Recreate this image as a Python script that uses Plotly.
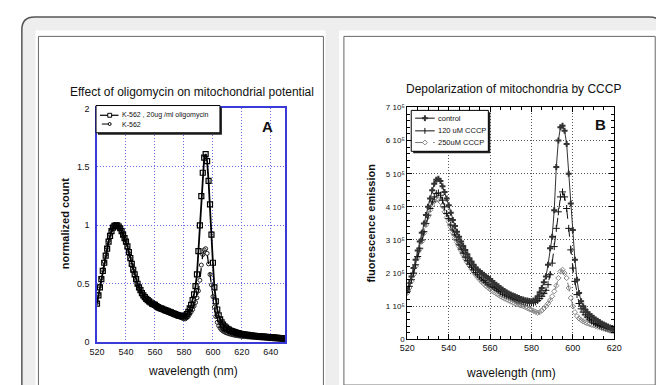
import plotly.graph_objects as go

W, H = 664, 385

# ---------------- data: panel A ----------------
wl_a = list(range(520, 651))
oligomycin = [0.33, 0.40, 0.47, 0.54, 0.61, 0.68, 0.74, 0.80, 0.86, 0.91,
              0.95, 0.98, 0.995, 1.0, 1.0, 0.99, 0.975, 0.95, 0.92, 0.89,
              0.86, 0.82, 0.77, 0.72, 0.67, 0.62, 0.58, 0.54, 0.50, 0.47,
              0.445, 0.42, 0.40, 0.385, 0.37, 0.36, 0.35, 0.34, 0.33, 0.325,
              0.32, 0.31, 0.30, 0.295, 0.29, 0.285, 0.28, 0.275, 0.27, 0.265,
              0.26, 0.255, 0.25, 0.245, 0.24, 0.235, 0.23, 0.228, 0.225, 0.222,
              0.22, 0.225, 0.24, 0.26, 0.29, 0.32, 0.36, 0.41, 0.48, 0.58,
              0.78, 1.0, 1.25, 1.45, 1.58, 1.61, 1.55, 1.38, 1.18, 0.92,
              0.68, 0.47, 0.35, 0.28, 0.23, 0.195, 0.17, 0.15, 0.135, 0.125,
              0.115, 0.107, 0.10, 0.095, 0.09, 0.086, 0.082, 0.078, 0.075, 0.072,
              0.07, 0.068, 0.066, 0.064, 0.062, 0.06, 0.058, 0.056, 0.055, 0.054,
              0.052, 0.051, 0.05, 0.049, 0.048, 0.047, 0.046, 0.045, 0.044, 0.043,
              0.042, 0.041, 0.04, 0.039, 0.038, 0.037, 0.036, 0.035, 0.034, 0.033,
              0.032]
k562 = [0.34, 0.41, 0.48, 0.55, 0.62, 0.69, 0.75, 0.81, 0.87, 0.92,
        0.96, 0.985, 1.0, 1.0, 0.995, 0.985, 0.97, 0.945, 0.915, 0.88,
        0.85, 0.81, 0.76, 0.71, 0.66, 0.61, 0.57, 0.53, 0.49, 0.46,
        0.435, 0.41, 0.39, 0.375, 0.36, 0.35, 0.34, 0.33, 0.32, 0.315,
        0.31, 0.30, 0.29, 0.285, 0.28, 0.275, 0.27, 0.265, 0.26, 0.255,
        0.25, 0.245, 0.24, 0.235, 0.23, 0.225, 0.22, 0.215, 0.21, 0.205,
        0.20, 0.20, 0.21, 0.22, 0.24, 0.26, 0.28, 0.31, 0.34, 0.38,
        0.44, 0.53, 0.66, 0.75, 0.79, 0.80, 0.76, 0.67, 0.58, 0.49,
        0.39, 0.30, 0.22, 0.17, 0.14, 0.12, 0.105, 0.095, 0.088, 0.082,
        0.077, 0.073, 0.069, 0.066, 0.063, 0.06, 0.058, 0.056, 0.054, 0.052,
        0.05, 0.049, 0.048, 0.047, 0.046, 0.045, 0.044, 0.043, 0.042, 0.041,
        0.04, 0.039, 0.038, 0.037, 0.036, 0.035, 0.034, 0.033, 0.032, 0.031,
        0.03, 0.029, 0.028, 0.027, 0.026, 0.025, 0.024, 0.023, 0.022, 0.021,
        0.02]

# ---------------- data: panel B (units of 1e5) ----------------
wl_b = list(range(520, 621))
control = [1.5, 1.7, 1.9, 2.15, 2.4, 2.68, 2.95, 3.22, 3.5, 3.75,
           4.0, 4.25, 4.5, 4.7, 4.82, 4.85, 4.78, 4.62, 4.45, 4.25,
           4.05, 3.82, 3.6, 3.42, 3.25, 3.1, 2.95, 2.82, 2.7, 2.57,
           2.45, 2.35, 2.25, 2.17, 2.1, 2.05, 2.0, 1.95, 1.9, 1.86,
           1.82, 1.76, 1.7, 1.65, 1.6, 1.55, 1.5, 1.46, 1.42, 1.38,
           1.35, 1.32, 1.3, 1.27, 1.25, 1.22, 1.2, 1.18, 1.17, 1.16,
           1.15, 1.17, 1.2, 1.3, 1.42, 1.55, 1.72, 1.9, 2.25, 2.75,
           3.1, 3.9, 5.2, 6.0, 6.4, 6.45, 6.3, 5.9, 5.0, 4.1,
           3.3, 2.4, 1.8, 1.4, 1.15, 1.0, 0.9, 0.82, 0.75, 0.7,
           0.65, 0.6, 0.56, 0.52, 0.48, 0.45, 0.42, 0.39, 0.36, 0.34,
           0.32]
cccp120 = [1.45, 1.6, 1.8, 2.0, 2.25, 2.5, 2.75, 3.0, 3.25, 3.5,
           3.75, 3.95, 4.15, 4.3, 4.4, 4.42, 4.35, 4.2, 4.0, 3.8,
           3.65, 3.45, 3.3, 3.15, 3.0, 2.85, 2.72, 2.6, 2.48, 2.37,
           2.27, 2.18, 2.1, 2.02, 1.95, 1.88, 1.82, 1.77, 1.72, 1.67,
           1.64, 1.6, 1.56, 1.52, 1.48, 1.44, 1.4, 1.36, 1.33, 1.3,
           1.27, 1.24, 1.21, 1.19, 1.17, 1.15, 1.13, 1.12, 1.11, 1.1,
           1.1, 1.11, 1.13, 1.17, 1.23, 1.3, 1.38, 1.48, 1.65, 1.95,
           2.3, 2.8, 3.35, 3.85, 4.3, 4.45, 4.3, 3.95, 3.35, 2.7,
           2.15, 1.75, 1.35, 1.08, 0.92, 0.82, 0.74, 0.67, 0.61, 0.56,
           0.52, 0.48, 0.45, 0.42, 0.39, 0.37, 0.35, 0.33, 0.31, 0.3,
           0.29]
cccp250 = [1.4, 1.55, 1.75, 1.95, 2.2, 2.45, 2.7, 2.95, 3.2, 3.45,
           3.7, 3.9, 4.05, 4.17, 4.22, 4.22, 4.15, 4.02, 3.85, 3.68,
           3.55, 3.38, 3.22, 3.07, 2.93, 2.8, 2.67, 2.55, 2.43, 2.32,
           2.22, 2.12, 2.03, 1.95, 1.87, 1.8, 1.73, 1.67, 1.61, 1.56,
           1.51, 1.46, 1.42, 1.38, 1.34, 1.3, 1.26, 1.23, 1.2, 1.17,
           1.14, 1.11, 1.08, 1.06, 1.04, 1.02, 1.0, 0.97, 0.94, 0.91,
           0.89, 0.86, 0.83, 0.8, 0.82, 0.87, 0.93, 1.0, 1.08, 1.18,
           1.3, 1.45, 1.62, 1.85, 2.05, 2.1, 2.0, 1.85, 1.55, 1.25,
           1.0, 0.82, 0.7, 0.63, 0.58, 0.54, 0.51, 0.48, 0.46, 0.44,
           0.42, 0.4, 0.38, 0.36, 0.34, 0.32, 0.3, 0.28, 0.26, 0.25,
           0.24]

xticks_a = [520, 540, 560, 580, 600, 620, 640]
yticks_a = [0, 0.5, 1, 1.5, 2]
yticklabels_a = ["0", "0.5", "1", "1.5", "2"]
xticks_b = [520, 540, 560, 580, 600, 620]
yticks_b = [0, 1, 2, 3, 4, 5, 6, 7]
yticklabels_b = ["0", "1 10⁵", "2 10⁵", "3 10⁵", "4 10⁵", "5 10⁵", "6 10⁵", "7 10⁵"]

FONT = "Liberation Sans, Arial, sans-serif"


def fx(x):
    return x / W


def fy(y):
    return 1 - y / H


fig = go.Figure()

# ---- panel A traces
fig.add_trace(go.Scatter(x=wl_a, y=k562, mode="lines+markers",
                         line=dict(color="black", width=1.3, dash="dash"),
                         marker=dict(symbol="circle-open", size=4, color="#222",
                                     line=dict(width=1)),
                         xaxis="x", yaxis="y", showlegend=False))
fig.add_trace(go.Scatter(x=wl_a, y=oligomycin, mode="lines+markers",
                         line=dict(color="black", width=1.8),
                         marker=dict(symbol="square-open", size=5, color="black",
                                     line=dict(width=1.2)),
                         xaxis="x", yaxis="y", showlegend=False))

# ---- panel B traces
fig.add_trace(go.Scatter(x=wl_b, y=cccp250, mode="lines+markers",
                         line=dict(color="#777", width=1, dash="dash"),
                         marker=dict(symbol="diamond-open", size=4, color="#888",
                                     line=dict(width=1)),
                         xaxis="x2", yaxis="y2", showlegend=False))
fig.add_trace(go.Scatter(x=wl_b, y=cccp120, mode="lines+markers",
                         line=dict(color="#111", width=1, dash="dash"),
                         marker=dict(symbol="cross-thin", size=5, color="#111",
                                     line=dict(width=1, color="#111")),
                         xaxis="x2", yaxis="y2", showlegend=False))
fig.add_trace(go.Scatter(x=wl_b, y=control, mode="lines+markers",
                         line=dict(color="#333", width=1),
                         marker=dict(symbol="cross", size=5, color="#333"),
                         xaxis="x2", yaxis="y2", showlegend=False))

shapes = []
# outer rounded frame
r = 13
path = (f"M {fx(6)},{fy(400)} L {fx(6)},{fy(4 + r)} Q {fx(6)},{fy(4)} {fx(6 + r)},{fy(4)} "
        f"L {fx(662 - r)},{fy(4)} Q {fx(662)},{fy(4)} {fx(662)},{fy(4 + r)} L {fx(662)},{fy(400)} Z")
shapes.append(dict(type="path", xref="paper", yref="paper", path=path,
                   fillcolor="#eeeeee", line=dict(color="#555", width=1.5), layer="below"))


def rect(x0, y0, x1, y1, fill=None, line=None, lw=1, layer="below"):
    return dict(type="rect", xref="paper", yref="paper",
                x0=fx(x0), x1=fx(x1), y0=fy(y1), y1=fy(y0),
                fillcolor=fill if fill else "rgba(0,0,0,0)",
                line=dict(color=line if line else "rgba(0,0,0,0)", width=lw if line else 0),
                layer=layer)


shapes.append(rect(20, 18, 317, 395, fill="white"))
shapes.append(rect(23, 24, 315, 395, line="#666", lw=1))
shapes.append(rect(331, 18, 657, 384, fill="white"))
shapes.append(rect(336, 24, 655, 382, line="#666", lw=1))

# legend A box
shapes.append(rect(84, 97, 211, 125, fill="#222", layer="above"))
shapes.append(rect(82, 95, 209, 123, fill="white", line="black", lw=1, layer="above"))
# legend B box
shapes.append(rect(407, 102, 486, 144, fill="#222", layer="above"))
shapes.append(rect(405, 100, 484, 142, fill="white", line="black", lw=1, layer="above"))


def hline(x0, x1, y, color="black", dash="solid", w=1):
    return dict(type="line", xref="paper", yref="paper", x0=fx(x0), x1=fx(x1),
                y0=fy(y), y1=fy(y), line=dict(color=color, width=w, dash=dash), layer="above")


def vline(x, y0, y1, color="black", w=1):
    return dict(type="line", xref="paper", yref="paper", x0=fx(x), x1=fx(x),
                y0=fy(y0), y1=fy(y1), line=dict(color=color, width=w), layer="above")


# legend A keys
shapes.append(hline(86, 105, 105, w=1.2))
shapes.append(rect(94, 103, 98, 107, fill="white", line="black", lw=1, layer="above"))
shapes.append(hline(88, 105, 114, dash="dash", w=1))
shapes.append(dict(type="circle", xref="paper", yref="paper", x0=fx(94.5), x1=fx(97.5),
                   y0=fy(115.5), y1=fy(112.5), fillcolor="white",
                   line=dict(color="black", width=1), layer="above"))
# legend B keys
shapes.append(hline(409, 429, 108, color="#333", w=1.2))
shapes.append(hline(416, 422, 108, color="#333", w=2))
shapes.append(vline(419, 105, 111, color="#333", w=2))
shapes.append(hline(409, 429, 121, color="#111", w=1))
shapes.append(vline(419, 118, 124, color="#111", w=1))
shapes.append(hline(409, 429, 133, color="#777", dash="dash", w=1))
shapes.append(dict(type="path", xref="paper", yref="paper",
                   path=f"M {fx(419)},{fy(130.5)} L {fx(421.5)},{fy(133)} L {fx(419)},{fy(135.5)} L {fx(416.5)},{fy(133)} Z",
                   fillcolor="white", line=dict(color="#888", width=1), layer="above"))

ann = []


def text(x, y, s, size=9, bold=False, xanchor="center", angle=0, color="#111"):
    ann.append(dict(x=fx(x), y=fy(y), xref="paper", yref="paper", showarrow=False,
                    text=f"<b>{s}</b>" if bold else s, xanchor=xanchor, yanchor="middle",
                    textangle=angle, font=dict(size=size, family=FONT, color=color)))


text(180, 81, "Effect of oligomycin on mitochondrial potential", size=12)
text(181, 368, "wavelength (nm)", size=12)
text(51, 216, "normalized count", size=11, bold=True, angle=-90)
text(258, 117, "A", size=15, bold=True)
text(107, 105, "K-562 , 20ug /ml oligomycin", size=7, xanchor="left")
text(107, 114, "K-562", size=7, xanchor="left")

text(510, 78, "Depolarization of mitochondria by CCCP", size=12)
text(507, 370, "wavelength (nm)", size=12)
text(364, 216, "fluorescence emission", size=11, bold=True, angle=-90)
text(599, 114, "B", size=15, bold=True)
text(430, 108, "control", size=7.5, xanchor="left")
text(430, 121, "120 uM CCCP", size=7.5, xanchor="left")
text(430, 133, "250uM CCCP", size=7.5, xanchor="left")

blue = "#3a3ad8"
gridblue = "#6a6ae6"
fig.update_layout(
    width=W, height=H, margin=dict(l=0, r=0, t=0, b=0),
    paper_bgcolor="white", plot_bgcolor="rgba(0,0,0,0)",
    shapes=shapes, annotations=ann, showlegend=False,
    font=dict(family=FONT, size=9, color="#111"),
    xaxis=dict(domain=[fx(83), fx(276)], range=[520, 650], anchor="y",
               tickvals=xticks_a, showgrid=True, gridcolor=gridblue, griddash="1px,2px", gridwidth=1,
               showline=True, linecolor=blue, linewidth=1.5, mirror=True,
               ticks="", zeroline=False, tickfont=dict(size=9, family=FONT)),
    yaxis=dict(domain=[fy(338), fy(98)], range=[0, 2], anchor="x",
               tickvals=yticks_a, ticktext=yticklabels_a, showgrid=True, gridcolor=gridblue,
               griddash="1px,2px", gridwidth=1, showline=True, linecolor=blue, linewidth=1.5,
               mirror=True, ticks="", zeroline=False, ticklabelstandoff=4,
               tickfont=dict(size=9, family=FONT)),
    xaxis2=dict(domain=[fx(401), fx(613)], range=[520, 620], anchor="y2",
                tickvals=xticks_b, showgrid=True, gridcolor="#555", griddash="1px,2px", gridwidth=1,
                showline=True, linecolor="black", linewidth=1, mirror="allticks",
                ticks="inside", ticklen=5, tickcolor="black",
                minor=dict(ticks="inside", ticklen=3, dtick=5, tickcolor="black", showgrid=False),
                zeroline=False, tickfont=dict(size=9, family=FONT)),
    yaxis2=dict(domain=[fy(335), fy(97)], range=[0, 7], anchor="x2",
                tickvals=yticks_b, ticktext=yticklabels_b, showgrid=True, gridcolor="#555",
                griddash="1px,2px", gridwidth=1, showline=True, linecolor="black", linewidth=1,
                mirror="allticks", ticks="inside", ticklen=5, tickcolor="black",
                minor=dict(ticks="inside", ticklen=3, dtick=0.2, tickcolor="black", showgrid=False),
                zeroline=False, tickfont=dict(size=8, family=FONT)),
)

fig.write_html("out.html")
